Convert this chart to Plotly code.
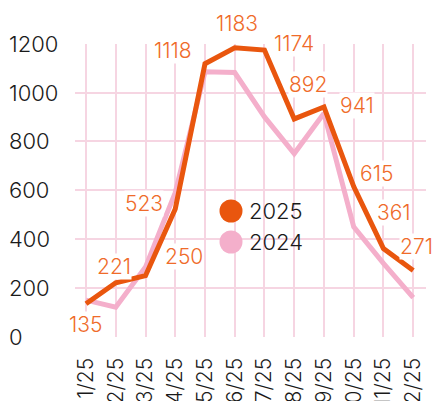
import plotly.graph_objects as go

# ---- data -------------------------------------------------------------
months = ["1/25", "2/25", "3/25", "4/25", "5/25", "6/25",
          "7/25", "8/25", "9/25", "10/25", "11/25", "12/25"]
sales_2025 = [135, 221, 250, 523, 1118, 1183, 1174, 892, 941, 615, 361, 271]
sales_2024 = [150, 121, 285, 590, 1085, 1082, 900, 750, 915, 450, 300, 160]
y_ticks = [0, 200, 400, 600, 800, 1000, 1200]

# ---- styling ----------------------------------------------------------
W, H = 433, 401
ORANGE = "#E9560E"
LABEL_ORANGE = "#EF6B2A"
PINK = "#F4AFCB"
GRID = "#F6D5E2"
FONT = "Inter"
WEIGHT = 300

# pixel offsets (dx right, dy up) of each value label from its point
label_offsets = [(-1, -21), (-2, 16), (38, 19), (-31, 6), (-32, 13), (2, 24),
                 (30, 7), (14, 34), (33, 1), (23, 13), (11, 36), (3, 24)]

# plot area in pixels
PL, PR, PT, PB = 75, 426, 43.7, 336.7


def px_x(x):
    return x / W


def px_y(y):
    return (H - y) / H


fig = go.Figure()

fig.add_trace(go.Scatter(
    x=months, y=sales_2024, mode="lines", name="2024",
    line=dict(color=PINK, width=5), showlegend=False, cliponaxis=False,
))
fig.add_trace(go.Scatter(
    x=months, y=sales_2025, mode="lines", name="2025",
    line=dict(color=ORANGE, width=5), showlegend=False, cliponaxis=False,
))

annotations = []

# value labels on the 2025 series
for m, v, (dx, dy) in zip(months, sales_2025, label_offsets):
    annotations.append(dict(
        x=m, y=v, xref="x", yref="y", text=str(v), showarrow=False,
        xanchor="center", yanchor="middle", xshift=dx, yshift=dy,
        font=dict(family=FONT, size=21, color=LABEL_ORANGE, weight=WEIGHT),
        bgcolor="white", borderpad=0,
    ))

# y tick labels, left aligned at the page edge
for t in y_ticks:
    annotations.append(dict(
        x=px_x(7), y=t, xref="paper", yref="y", text=str(t), showarrow=False,
        xanchor="left", yanchor="middle",
        font=dict(family=FONT, size=22, color="#1a1a1a", weight=WEIGHT),
    ))

# legend
shapes = [dict(type="rect", xref="paper", yref="paper", layer="between",
               x0=px_x(219), x1=px_x(302), y0=px_y(254), y1=px_y(198),
               fillcolor="white", line=dict(width=0))]
legend_items = [("2025", ORANGE, 211), ("2024", PINK, 242)]
for name, col, cy in legend_items:
    shapes.append(dict(type="circle", xref="paper", yref="paper", layer="above",
                       x0=px_x(231 - 11.5), x1=px_x(231 + 11.5),
                       y0=px_y(cy + 11.5), y1=px_y(cy - 11.5),
                       fillcolor=col, line=dict(width=0)))
    annotations.append(dict(
        x=px_x(247), y=px_y(cy), xref="paper", yref="paper", text=name,
        showarrow=False, xanchor="left", yanchor="middle",
        font=dict(family=FONT, size=22, color="#1a1a1a", weight=WEIGHT),
    ))

fig.update_layout(
    width=W, height=H,
    margin=dict(l=0, r=0, t=0, b=0, autoexpand=False),
    paper_bgcolor="white", plot_bgcolor="white",
    showlegend=False,
    annotations=annotations,
    shapes=shapes,
    xaxis=dict(
        domain=[px_x(PL), px_x(PR)],
        type="category", range=[-0.37, 11.43],
        showgrid=True, gridcolor=GRID, gridwidth=1.5,
        zeroline=False, showline=False, ticks="",
        tickangle=-90, ticklabelstandoff=16, automargin=False,
        tickfont=dict(family=FONT, size=21, color="#1a1a1a", weight=WEIGHT),
    ),
    yaxis=dict(
        domain=[px_y(PB), px_y(PT)],
        range=[0, 1200], tickvals=y_ticks, showticklabels=False,
        showgrid=True, gridcolor=GRID, gridwidth=1.5,
        zeroline=False, showline=False, ticks="", automargin=False,
    ),
)

fig.write_html("out.html")
